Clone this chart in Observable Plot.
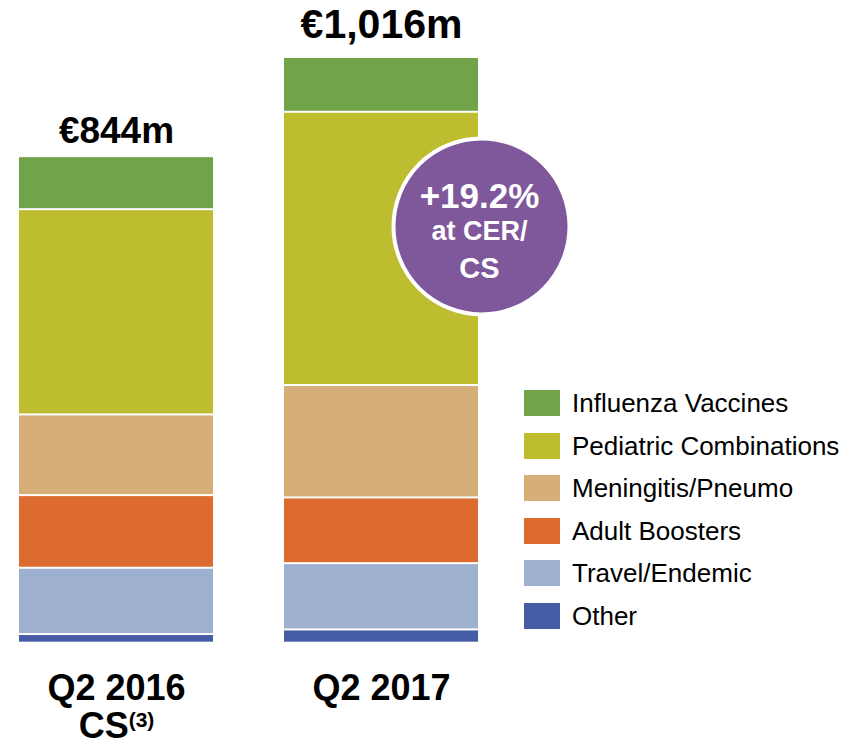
<!DOCTYPE html>
<html><head><meta charset="utf-8">
<script src="https://cdn.jsdelivr.net/npm/d3@7"></script>
<script src="https://cdn.jsdelivr.net/npm/@observablehq/plot@0.6"></script>
<style>
body{margin:0;background:#fff;}
#wrap{position:relative;width:851px;height:745px;font-family:"Liberation Sans",Arial,sans-serif;}
#legend{position:absolute;left:524px;top:390px;}
.row{display:flex;align-items:center;height:26px;margin-bottom:16.6px;}
.sw{width:36px;height:26px;margin-right:12px;flex:none;}
.lab{font-size:26px;color:#000;line-height:26px;white-space:nowrap;}
</style></head><body><div id="wrap"></div>
<script>
// Data (stack order: bottom to top)
const periods = ["Q2 2016\nCS(3)", "Q2 2017"];
const segments = ["Other", "Travel/Endemic", "Adult Boosters", "Meningitis/Pneumo", "Pediatric Combinations", "Influenza Vaccines"];
const colors = ["#465DA5", "#9EB0CF", "#DD6B2F", "#D6AE78", "#BEBD30", "#71A348"];
const q2_2016 = [15, 115, 126, 140, 356, 92];
const q2_2017 = [23, 115, 114, 195, 474, 95];
const totalLabels = ["€844m", "€1,016m"];
const growthLines = ["+19.2%", "at CER/", "CS"];
const growthAt = 723; // vertical anchor of the growth badge, in € m

const series = [q2_2016, q2_2017];
const rows = [];
periods.forEach((p, i) => segments.forEach((s, j) => rows.push({period: p, segment: s, value: series[i][j]})));
const totals = periods.map((p, i) => ({period: p, total: d3.sum(series[i]), label: totalLabels[i]}));
const note = [{period: periods[1], y: growthAt}];
const font = '"Liberation Sans", Arial, sans-serif';

const chart = Plot.plot({
  width: 851, height: 745,
  marginTop: 57, marginBottom: 102.3, marginLeft: 18, marginRight: 372.5,
  style: {fontFamily: font, background: "white", overflow: "visible", color: "#000"},
  x: {domain: periods, paddingInner: 0.267, paddingOuter: 0, label: null},
  y: {domain: [0, d3.max(totals, d => d.total)], axis: null, label: null},
  color: {domain: segments, range: colors},
  marks: [
    Plot.barY(rows, {x: "period", y: "value", fill: "segment", insetTop: 1, insetBottom: 1}),
    Plot.axisX({tickSize: 0, tickPadding: 30, fontSize: 36, fontWeight: "bold", lineHeight: 1.05, fill: "#000", label: null}),
    Plot.text(totals.slice(0, 1), {x: "period", y: "total", text: "label", lineAnchor: "bottom", dy: -14, fontSize: 37, fontWeight: "bold", fill: "#000"}),
    Plot.text(totals.slice(1), {x: "period", y: "total", text: "label", lineAnchor: "bottom", dy: -20, fontSize: 41, fontWeight: "bold", fill: "#000"}),
    Plot.dot(note, {x: "period", y: "y", r: 88, fill: "#7F579B", stroke: "white", strokeWidth: 4, dx: 100}),
    Plot.text(note, {x: "period", y: "y", text: () => growthLines[0], dx: 98, dy: -18, lineAnchor: "bottom", fontSize: 35, fontWeight: "bold", fill: "white"}),
    Plot.text(note, {x: "period", y: "y", text: () => growthLines[1], dx: 98, dy: 14, lineAnchor: "bottom", fontSize: 27, fontWeight: "bold", fill: "white"}),
    Plot.text(note, {x: "period", y: "y", text: () => growthLines[2], dx: 98, dy: 52, lineAnchor: "bottom", fontSize: 29, fontWeight: "bold", fill: "white"})
  ]
});

// superscript footnote marker in the tick label
chart.querySelectorAll("text, tspan").forEach(t => {
  if (t.childElementCount === 0 && t.textContent === "CS(3)") {
    t.textContent = "CS";
    const sup = document.createElementNS("http://www.w3.org/2000/svg", "tspan");
    sup.setAttribute("font-size", "21");
    sup.setAttribute("dy", "-11");
    sup.textContent = "(3)";
    t.appendChild(sup);
  }
});

const wrap = document.getElementById("wrap");
wrap.appendChild(chart);

// legend (top to bottom)
const legend = document.createElement("div");
legend.id = "legend";
segments.slice().reverse().forEach(s => {
  const row = document.createElement("div");
  row.className = "row";
  const sw = document.createElement("div");
  sw.className = "sw";
  sw.style.background = colors[segments.indexOf(s)];
  const lab = document.createElement("div");
  lab.className = "lab";
  lab.textContent = s;
  row.appendChild(sw); row.appendChild(lab);
  legend.appendChild(row);
});
wrap.appendChild(legend);
</script></body></html>
